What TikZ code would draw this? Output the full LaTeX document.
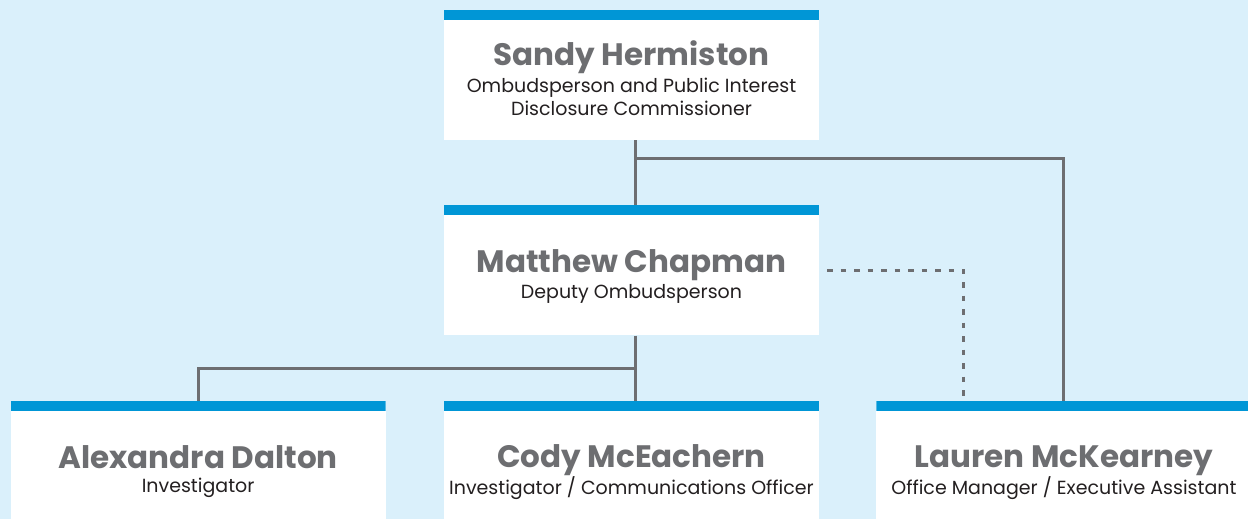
\documentclass[tikz,border=0pt]{standalone}
\usepackage{fontspec}
\setmainfont{Poppins}
\usetikzlibrary{positioning}
\definecolor{skyback}{HTML}{DAF0FB}
\definecolor{barblue}{HTML}{0096D6}
\definecolor{namegray}{HTML}{6D6E71}
\definecolor{titlegray}{HTML}{231F20}
\tikzset{x=1pt, y=-1pt,
staff/.style={ % White box with the blue strip on top
fill=white,
minimum width=375pt,
minimum height=130pt,
inner sep=0pt,
align=center,
font=\fontsize{10}{10}\selectfont,
path picture={\fill[barblue] (path picture bounding box.north west) rectangle ([yshift=-10pt]path picture bounding box.north east);}},
line/.style={draw=namegray, line width=3pt}, % Solid reporting line
dotline/.style={line, dash pattern=on 5.5pt off 8pt}} % Dashed reporting line
% struts keep the baselines the same in every box (tall one on the name pushes the text down)
\newcommand{\staffname}[1]{{\color{namegray}\fontsize{31}{10}\selectfont\bfseries\rule[-5pt]{0pt}{40pt}#1}}
\newcommand{\stafftitle}[1]{{\color{titlegray}\fontsize{19}{10}\selectfont\rule[-4pt]{0pt}{21.5pt}#1}}

\begin{document}
\begin{tikzpicture}
\fill[skyback] (0,0) rectangle (1248,519);
\useasboundingbox (0,0) rectangle (1248,519);

\node[staff] (sandy) at (631.5,75) {\staffname{Sandy Hermiston}\\\stafftitle{Ombudsperson and Public Interest}\\\stafftitle{Disclosure Commissioner}};
\node[staff, below=65pt of sandy] (matthew) {\staffname{Matthew Chapman}\\\stafftitle{Deputy Ombudsperson}};
\node[staff, below=65pt of matthew] (cody) {\staffname{Cody McEachern}\\\stafftitle{Investigator / Communications Officer}};
\node[staff, left=58pt of cody] (alexandra) {\staffname{Alexandra Dalton}\\\stafftitle{Investigator}};
\node[staff, right=57pt of cody] (lauren) {\staffname{Lauren McKearney}\\\stafftitle{Office Manager / Executive Assistant}};

\draw[line] ([xshift=3.5pt]sandy.south) -- ([xshift=3.5pt]matthew.north);
\draw[line] ([xshift=3.5pt, yshift=-18pt]sandy.south) -| (lauren.north);
\draw[line] ([xshift=3.5pt]matthew.south) -- ([xshift=3.5pt]cody.north);
\draw[line] ([xshift=3.5pt, yshift=-33pt]matthew.south) -| (alexandra.north);
\draw[dotline] ([xshift=8pt]matthew.east) -| ([xshift=-100pt]lauren.north);
\end{tikzpicture}
\end{document}
